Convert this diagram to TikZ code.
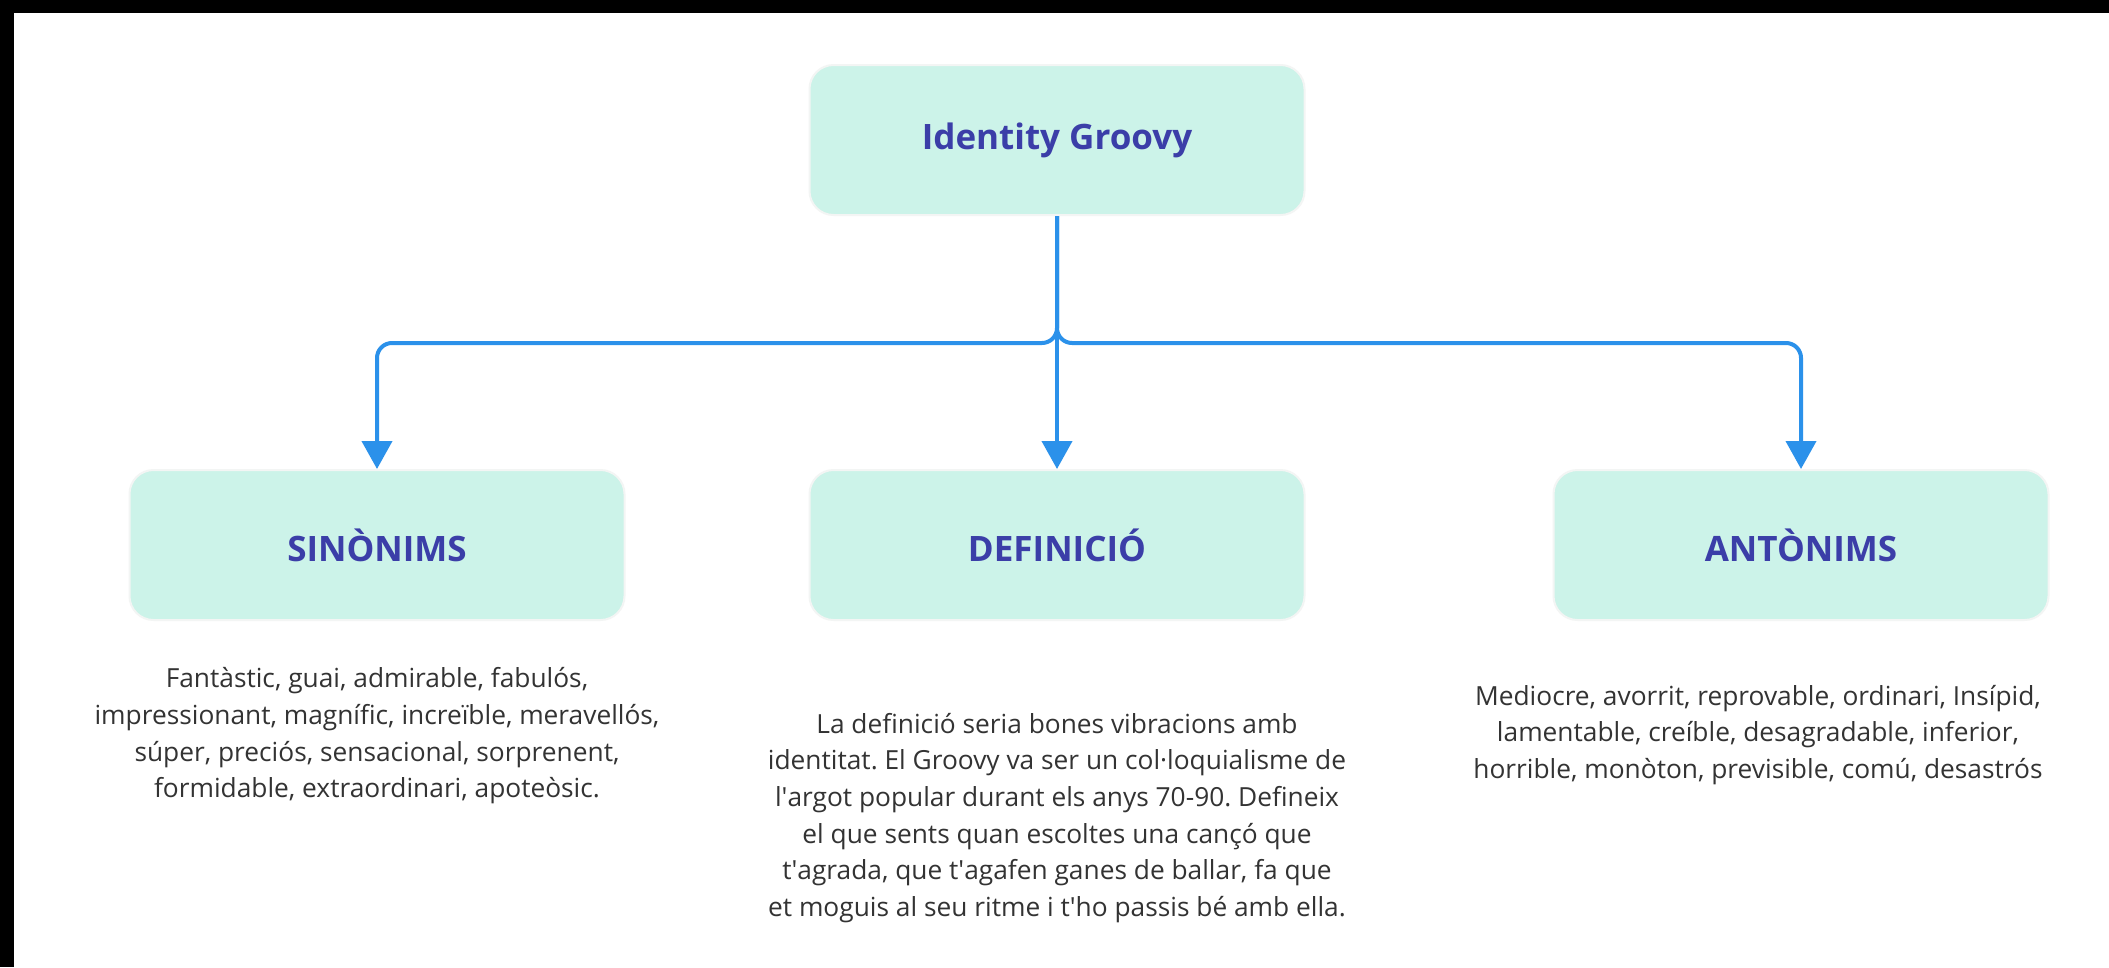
\documentclass[tikz,border=0pt]{standalone}
\usepackage{fontspec}
\setmainfont{Open Sans}
\usetikzlibrary{arrows.meta,positioning}
\definecolor{mint}{HTML}{CCF3E9}
\definecolor{rimgray}{HTML}{F3F5F4}
\definecolor{linkblue}{HTML}{2B91EA}
\definecolor{titleblue}{HTML}{3B3EA8}
\definecolor{bodygray}{HTML}{333333}
\newcommand{\ap}{\textquotesingle}

\begin{document}
\frenchspacing
\begin{tikzpicture}[x=1pt,y=-1pt,
    box/.style={rectangle,rounded corners=24pt,fill=mint,draw=rimgray,line width=2pt,
        minimum width=495pt,minimum height=150pt,text=titleblue,
        font=\fontsize{35}{42}\selectfont\bfseries},
    words/.style={align=center,text=bodygray,inner sep=0pt,
        font=\fontsize{26.3}{36.7}\selectfont},
    link/.style={draw=linkblue,line width=4pt,rounded corners=15pt,
        -{Triangle[length=28pt,width=30pt]}}]
    % page and frame
    \fill[white] (0,0) rectangle (2109,967);
    \fill[black] (0,0) rectangle (2109,13);
    \fill[black] (0,0) rectangle (14,967);

    % boxes
    \node[box] (groovy) at (1057,140) {Identity Groovy};
    \node[box] (sin) at (377,545) {SINÒNIMS};
    \node[box] (def) at (1057,545) {DEFINICIÓ};
    \node[box] (ant) at (1801,545) {ANTÒNIMS};

    % texts under the boxes
    \node[words] (sintxt) at (377,736) {Fantàstic, guai, admirable, fabulós,\\
        impressionant, magnífic, increïble, meravellós,\\
        súper, preciós, sensacional, sorprenent,\\
        formidable, extraordinari, apoteòsic.};
    \node[words] (deftxt) at (1057,818) {La definició seria bones vibracions amb\\
        identitat. El Groovy va ser un col·loquialisme de\\
        l\ap argot popular durant els anys 70-90. Defineix\\
        el que sents quan escoltes una cançó que\\
        t\ap agrada, que t\ap agafen ganes de ballar, fa que\\
        et moguis al seu ritme i t\ap ho passis bé amb ella.};
    \node[words] (anttxt) at (1758,735) {Mediocre, avorrit, reprovable, ordinari, Insípid,\\
        lamentable, creíble, desagradable, inferior,\\
        horrible, monòton, previsible, comú, desastrós};

    % connectors
    \coordinate (hub) at (1057,343);
    \draw[link] (groovy.south) -- (def.north);
    \draw[link] (groovy.south) -- (hub) -| (sin.north);
    \draw[link] (groovy.south) -- (hub) -| (ant.north);
\end{tikzpicture}
\end{document}
